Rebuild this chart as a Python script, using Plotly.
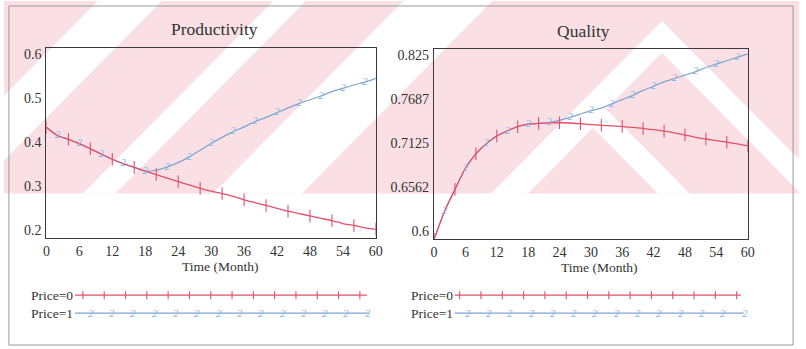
import plotly.graph_objects as go

W, H = 806, 349

# ---------------- data ----------------
time_months = [0, 2, 4, 6, 8, 10, 12, 14, 16, 18, 20, 22, 24, 26, 28, 30,
               32, 34, 36, 38, 40, 42, 44, 46, 48, 50, 52, 54, 56, 58, 60]

prod_price0 = [0.433, 0.416, 0.408, 0.399, 0.388, 0.377, 0.366, 0.357, 0.349, 0.341,
               0.334, 0.3265, 0.319, 0.312, 0.305, 0.299, 0.294, 0.288, 0.281, 0.275,
               0.269, 0.263, 0.257, 0.252, 0.247, 0.242, 0.237, 0.231, 0.227, 0.222, 0.219]
prod_price1 = [0.433, 0.416, 0.408, 0.399, 0.388, 0.377, 0.366, 0.357, 0.349, 0.341,
               0.343, 0.350, 0.359, 0.371, 0.385, 0.399, 0.412, 0.424, 0.434, 0.445,
               0.454, 0.464, 0.474, 0.483, 0.491, 0.499, 0.508, 0.515, 0.522, 0.528, 0.536]

qual_price0 = [0.600, 0.633, 0.659, 0.684, 0.701, 0.713, 0.722, 0.728, 0.733, 0.736,
               0.737, 0.7375, 0.7377, 0.7374, 0.7365, 0.7355, 0.7347, 0.734, 0.7332, 0.7323,
               0.731, 0.7296, 0.7278, 0.7258, 0.7232, 0.7205, 0.7185, 0.7166, 0.7147, 0.7127, 0.7103]
qual_price1 = [0.600, 0.633, 0.659, 0.684, 0.701, 0.713, 0.722, 0.728, 0.733, 0.736,
               0.737, 0.738, 0.7405, 0.744, 0.748, 0.752, 0.755, 0.760, 0.765, 0.770,
               0.776, 0.781, 0.786, 0.790, 0.794, 0.798, 0.803, 0.807, 0.811, 0.815, 0.819]

x_tick_vals = [0, 6, 12, 18, 24, 30, 36, 42, 48, 54, 60]
prod_tick_text = ["0.2", "0.3", "0.4", "0.5", "0.6"]
qual_tick_text = ["0.6", "0.6562", "0.7125", "0.7687", "0.825"]
prod_range = [0.2, 0.6]
qual_range = [0.6, 0.825]
series_names = ["Price=0", "Price=1"]
panel_titles = ["Productivity", "Quality"]
x_title = "Time (Month)"

# ---------------- style ----------------
FONT = "Liberation Serif"
TXT = "#333333"
RED = "#e0506c"
BLUE = "#7fa4cf"
BLUE_MK = "#80b8e4"
PINK = "#fae0e4"

def fx(x):
    return x / W

def fy(y):
    return 1 - y / H

fig = go.Figure()

# plot areas in pixels: (x0, x1, ytop, ybottom)
panels = [(43, 377, 47, 238), (436, 754, 48, 239)]
series = [(prod_price0, prod_price1, prod_range, prod_tick_text),
          (qual_price0, qual_price1, qual_range, qual_tick_text)]

for i, ((x0, x1, yt, yb), (s0, s1, rng, ttext)) in enumerate(zip(panels, series)):
    xa = "x" if i == 0 else "x2"
    ya = "y" if i == 0 else "y2"
    fig.add_trace(go.Scatter(x=time_months, y=s1, mode="lines", xaxis=xa, yaxis=ya,
                             line=dict(color=BLUE, width=1.2, shape="spline", smoothing=0.6),
                             name=series_names[1], showlegend=False, hoverinfo="skip"))
    fig.add_trace(go.Scatter(x=time_months, y=s0, mode="lines", xaxis=xa, yaxis=ya,
                             line=dict(color=RED, width=1.3, shape="spline", smoothing=0.6),
                             name=series_names[0], showlegend=False, hoverinfo="skip"))
    fig.add_trace(go.Scatter(x=time_months[1::2], y=s1[1::2], mode="text", xaxis=xa, yaxis=ya,
                             text=["2"] * len(time_months[1::2]),
                             textfont=dict(family=FONT, size=11, color=BLUE_MK, style="italic"),
                             textposition="middle center", showlegend=False, hoverinfo="skip"))
    fig.add_trace(go.Scatter(x=time_months[::2], y=s0[::2], mode="markers", xaxis=xa, yaxis=ya,
                             marker=dict(symbol="line-ns", size=9,
                                         line=dict(color=RED, width=1.1)),
                             showlegend=False, hoverinfo="skip"))

    lo, hi = rng
    h = yb - yt
    inset_b, inset_t = 8 / h, 6 / h
    n = len(ttext)
    tvals = [lo + (hi - lo) * (inset_b + (1 - inset_b - inset_t) * k / (n - 1)) for k in range(n)]

    xdom = [fx(x0), fx(x1)]
    ydom = [fy(yb), fy(yt)]
    axis_common = dict(showline=True, linecolor="#3a3a3a", linewidth=1.3, mirror=True,
                       showgrid=False, zeroline=False, ticks="",
                       tickfont=dict(family=FONT, size=14, color=TXT))
    fig.update_layout(**{
        ("xaxis" if i == 0 else "xaxis2"): dict(domain=xdom, range=[0, 60], tickmode="array",
                                                tickvals=x_tick_vals, anchor=ya,
                                                **axis_common),
        ("yaxis" if i == 0 else "yaxis2"): dict(domain=ydom, range=rng, tickmode="array",
                                                tickvals=tvals, ticktext=ttext, anchor=xa,
                                                ticklabelstandoff=1,
                                                **axis_common),
    })

annotations = []
shapes = []

for (cx, cy), t in zip([(213, 28), (588, 30)], panel_titles):
    annotations.append(dict(x=fx(cx), y=fy(cy), xref="paper", yref="paper", text=t,
                            showarrow=False, xanchor="center", yanchor="middle",
                            font=dict(family=FONT, size=17.5, color=TXT)))
for cx, cy in [(219, 266), (603, 267)]:
    annotations.append(dict(x=fx(cx), y=fy(cy), xref="paper", yref="paper", text=x_title,
                            showarrow=False, xanchor="center", yanchor="middle",
                            font=dict(family=FONT, size=13.5, color=TXT)))

legend_spec = [
    (72, 368, 370, 80, 88),
    (457, 747, 750, 462, 470),
]
for (tx, end0, end1, r0, b0) in legend_spec:
    for j, (name, yy, col, end) in enumerate([(series_names[0], 295, RED, end0),
                                             (series_names[1], 313, BLUE, end1)]):
        annotations.append(dict(x=fx(tx), y=fy(yy), xref="paper", yref="paper", text=name,
                                showarrow=False, xanchor="right", yanchor="middle",
                                font=dict(family=FONT, size=13.5, color=TXT)))
        shapes.append(dict(type="line", xref="paper", yref="paper",
                           x0=fx(tx), x1=fx(end), y0=fy(yy), y1=fy(yy),
                           line=dict(color=col, width=1.2)))
    for k in range(14):
        xr = r0 + k * 21.6
        shapes.append(dict(type="line", xref="paper", yref="paper",
                           x0=fx(xr), x1=fx(xr), y0=fy(291), y1=fy(299),
                           line=dict(color=RED, width=1.1)))
        xb = b0 + k * 21.6
        annotations.append(dict(x=fx(xb), y=fy(313), xref="paper", yref="paper", text="2",
                                showarrow=False, xanchor="center", yanchor="middle",
                                font=dict(family=FONT, size=11, color=BLUE_MK, style="italic")))

shapes.append(dict(type="rect", xref="paper", yref="paper", x0=fx(5), x1=fx(800),
                   y0=fy(345), y1=fy(5), line=dict(color="#9a9a9a", width=1),
                   fillcolor="rgba(0,0,0,0)", layer="above"))

# background watermark of the scanned page (pale pink diagonal bands)
def poly(pts, color):
    path = "M " + " L ".join(f"{fx(a):.5f},{fy(b):.5f}" for a, b in pts) + " Z"
    return dict(type="path", xref="paper", yref="paper", path=path, fillcolor=color,
                line=dict(width=0), layer="below")

TOP, BOT = 0, 193
wm = [poly([(0, TOP), (806, TOP), (806, BOT), (0, BOT)], PINK)]
for c1, c2 in [(95, 160), (273, 306), (405, 495)]:
    wm.append(poly([(c1, TOP), (c2, TOP), (c2 - BOT, BOT), (c1 - BOT, BOT)], "white"))

def chevron(ax, ay, d):
    L = BOT - ay
    return poly([(ax - L, BOT), (ax, ay), (ax + L, BOT), (ax + L - d, BOT),
                 (ax, ay + d), (ax - L + d, BOT)], "white")

wm.append(chevron(597, 95, 32))
wm.append(chevron(667, 20, 32))
shapes = wm + shapes

fig.update_layout(width=W, height=H, autosize=False,
                  margin=dict(l=0, r=0, t=0, b=0),
                  paper_bgcolor="white", plot_bgcolor="rgba(0,0,0,0)",
                  showlegend=False, annotations=annotations, shapes=shapes)

fig.write_html("out.html", config={"displayModeBar": False},
               post_script="document.body.style.margin='0';document.body.style.overflow='hidden';")
